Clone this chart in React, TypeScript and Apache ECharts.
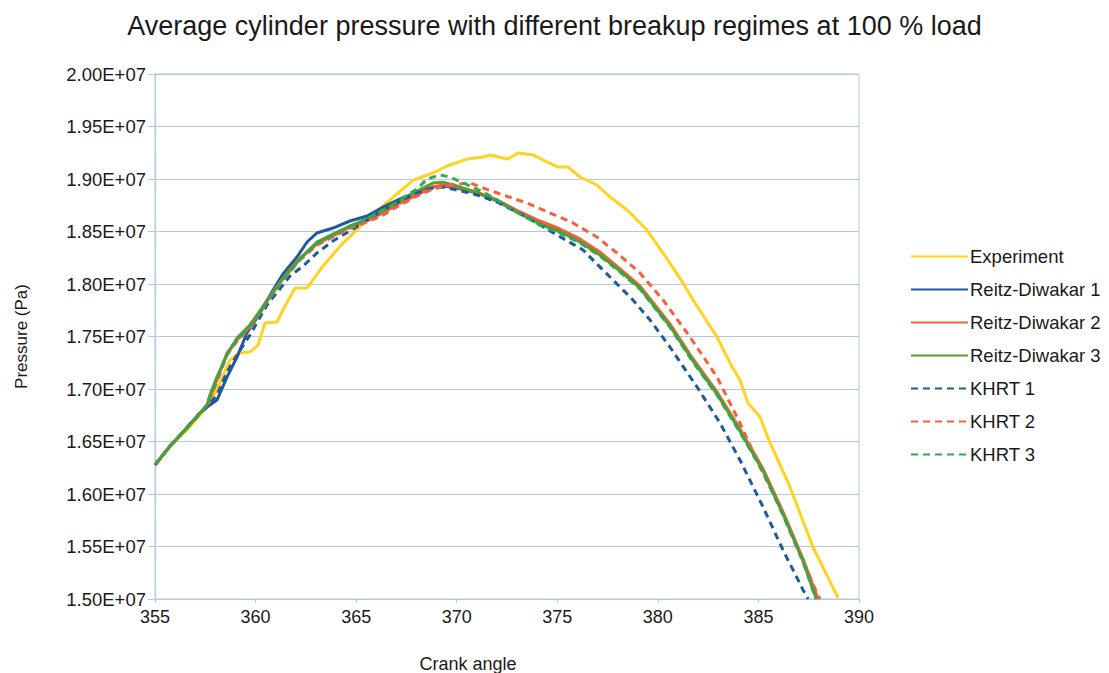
import React, { useEffect, useRef } from "react";
import * as echarts from "echarts";

// Pressure values are given in units of 1e7 Pa, crank angle in degrees
const SCALE = 1e7;

const title = "Average cylinder pressure with different breakup regimes at 100 % load";
const seriesNames = ["Experiment", "Reitz-Diwakar 1", "Reitz-Diwakar 2", "Reitz-Diwakar 3", "KHRT 1", "KHRT 2", "KHRT 3"];
const seriesColors = ["#ffd320", "#1f5a9c", "#f5603a", "#5a9e2a", "#1f5a9c", "#f5603a", "#2eaa50"];
const seriesDashed = [false, false, false, false, true, true, true];

const commonStart: number[][] = [
  [355.0, 1.6276], [355.75, 1.6457], [356.49, 1.661], [357.24, 1.6771],
];

const experiment: number[][] = [
  [355.0, 1.6276], [355.75, 1.6457], [356.59, 1.661], [357.24, 1.6752], [357.73, 1.6867],
  [358.23, 1.7057], [358.73, 1.7276], [359.23, 1.7343], [359.72, 1.7352], [360.12, 1.7419],
  [360.47, 1.7629], [361.07, 1.7638], [361.36, 1.7752], [361.96, 1.7962], [362.56, 1.7962],
  [363.35, 1.8171], [364.35, 1.839], [365.54, 1.861], [366.68, 1.88], [367.83, 1.899],
  [368.82, 1.9057], [369.52, 1.9124], [370.51, 1.919], [371.31, 1.921], [371.66, 1.9229],
  [372.3, 1.92], [372.55, 1.919], [373.05, 1.9248], [373.79, 1.9229], [374.49, 1.9162],
  [375.04, 1.9114], [375.53, 1.9114], [376.13, 1.9019], [376.97, 1.8943], [377.62, 1.8829],
  [378.47, 1.8705], [379.46, 1.8514], [380.26, 1.8295], [381.25, 1.801], [381.75, 1.7848],
  [382.94, 1.7495], [383.59, 1.7248], [384.08, 1.7086], [384.48, 1.6867], [385.08, 1.6733],
  [385.58, 1.6486], [386.57, 1.6067], [387.71, 1.5495], [388.96, 1.501],
];

const reitzDiwakar1: number[][] = [
  ...commonStart,
  [357.59, 1.6829], [358.08, 1.6895], [358.58, 1.7114], [359.08, 1.7305], [359.57, 1.7533],
  [360.22, 1.7724], [360.87, 1.7943], [361.36, 1.8095], [362.06, 1.8257], [362.56, 1.84],
  [363.05, 1.8486], [363.85, 1.8533], [364.69, 1.86], [365.54, 1.8648], [366.34, 1.8733],
  [367.18, 1.881], [368.03, 1.8876], [368.82, 1.8924], [369.32, 1.8933], [370.01, 1.8914],
  [371.01, 1.8867], [372.0, 1.88], [373.15, 1.8676], [374.14, 1.859], [375.14, 1.8514],
  [376.13, 1.8419], [377.12, 1.8295], [378.12, 1.8133], [379.11, 1.7971], [380.6, 1.761],
  [381.75, 1.7276], [382.94, 1.6962], [384.08, 1.661], [385.23, 1.6229], [386.22, 1.5819],
  [387.22, 1.5371], [387.91, 1.5019],
];

const reitzDiwakar2: number[][] = [
  ...commonStart,
  [357.59, 1.6848], [357.73, 1.6914], [358.08, 1.7086], [358.58, 1.7343], [359.08, 1.7467],
  [359.72, 1.759], [360.57, 1.7848], [361.36, 1.8057], [362.21, 1.8248], [363.05, 1.8381],
  [363.85, 1.8457], [364.69, 1.8543], [365.54, 1.86], [366.34, 1.8676], [367.18, 1.8771],
  [368.03, 1.8848], [368.82, 1.8924], [369.32, 1.8943], [370.01, 1.8924], [371.01, 1.8876],
  [372.0, 1.88], [373.15, 1.8686], [374.14, 1.86], [375.14, 1.8524], [376.13, 1.8429],
  [377.12, 1.8305], [378.12, 1.8143], [379.11, 1.7981], [380.6, 1.762], [381.75, 1.7286],
  [382.94, 1.6972], [384.08, 1.662], [385.23, 1.6239], [386.22, 1.5829], [387.22, 1.5381],
  [387.96, 1.5],
];

const reitzDiwakar3: number[][] = [
  ...commonStart,
  [357.59, 1.6848], [357.73, 1.6943], [358.08, 1.7114], [358.58, 1.7324], [359.08, 1.7486],
  [359.72, 1.761], [360.57, 1.7838], [361.36, 1.8048], [362.21, 1.8238], [363.05, 1.84],
  [363.85, 1.8476], [364.69, 1.8552], [365.54, 1.8619], [366.34, 1.8705], [367.18, 1.879],
  [368.03, 1.8886], [368.82, 1.8962], [369.32, 1.897], [370.01, 1.8933], [371.01, 1.8867],
  [372.0, 1.879], [373.15, 1.8667], [374.14, 1.8571], [375.14, 1.8495], [376.13, 1.84],
  [377.12, 1.8276], [378.12, 1.8124], [379.11, 1.7962], [380.6, 1.76], [381.75, 1.7267],
  [382.94, 1.6952], [384.08, 1.66], [385.23, 1.6219], [386.22, 1.581], [387.22, 1.5362],
  [387.88, 1.5],
];

const khrt1: number[][] = [
  ...commonStart,
  [357.59, 1.6829], [358.08, 1.6943], [358.58, 1.7162], [359.08, 1.7324], [359.72, 1.7514],
  [360.57, 1.78], [361.36, 1.799], [361.71, 1.8076], [362.36, 1.8171], [363.05, 1.8295],
  [363.85, 1.841], [364.69, 1.8505], [365.34, 1.8581], [366.34, 1.8705], [367.18, 1.879],
  [368.03, 1.8867], [368.82, 1.8914], [369.32, 1.8924], [370.01, 1.8895], [371.01, 1.8848],
  [372.0, 1.8781], [373.49, 1.8638], [374.64, 1.8505], [376.28, 1.8324], [377.62, 1.8067],
  [378.76, 1.7848], [379.61, 1.7657], [380.6, 1.74], [381.95, 1.7019], [383.09, 1.6676],
  [384.08, 1.6324], [385.23, 1.5876], [386.22, 1.5467], [387.22, 1.5086], [387.47, 1.5],
];

const khrt2: number[][] = [
  ...commonStart,
  [357.59, 1.6848], [357.73, 1.6905], [358.08, 1.7067], [358.58, 1.7324], [359.08, 1.7457],
  [359.72, 1.7581], [360.57, 1.7829], [361.36, 1.8038], [362.21, 1.8229], [363.05, 1.8371],
  [363.85, 1.8448], [364.69, 1.8533], [365.54, 1.859], [366.34, 1.8657], [367.18, 1.8752],
  [368.03, 1.8838], [368.82, 1.8905], [369.67, 1.8943], [370.66, 1.8962], [371.31, 1.8914],
  [372.3, 1.8848], [373.49, 1.8771], [374.64, 1.8676], [375.78, 1.8581], [376.97, 1.8448],
  [377.97, 1.8295], [379.11, 1.8105], [380.26, 1.7848], [381.6, 1.7495], [382.94, 1.7114],
  [384.08, 1.6676], [385.08, 1.6257], [386.07, 1.5876], [386.92, 1.5495], [387.91, 1.5057],
  [388.06, 1.5],
];

const khrt3: number[][] = [
  ...commonStart,
  [357.59, 1.6848], [357.73, 1.6924], [358.08, 1.7105], [358.58, 1.7333], [359.08, 1.7476],
  [359.72, 1.76], [360.57, 1.7838], [361.36, 1.8048], [362.21, 1.8238], [363.05, 1.839],
  [363.85, 1.8467], [364.69, 1.8552], [365.54, 1.8619], [366.34, 1.8705], [367.18, 1.88],
  [368.03, 1.8905], [368.52, 1.9], [369.17, 1.9038], [369.67, 1.9019], [370.01, 1.899],
  [370.66, 1.8933], [371.31, 1.8876], [372.0, 1.88], [373.15, 1.8667], [374.14, 1.8562],
  [375.14, 1.8486], [376.13, 1.839], [377.12, 1.8267], [378.12, 1.8114], [379.11, 1.7952],
  [380.6, 1.759], [381.75, 1.7257], [382.94, 1.6943], [384.08, 1.659], [385.23, 1.621],
  [386.22, 1.58], [387.22, 1.5352], [387.86, 1.5],
];

const allData = [experiment, reitzDiwakar1, reitzDiwakar2, reitzDiwakar3, khrt1, khrt2, khrt3];

const xMin = 355;
const xMax = 390;
const xStep = 5;
const yMin = 1.5e7;
const yMax = 2.0e7;
const yStep = 0.05e7;

const FONT = "'Liberation Sans', Arial, sans-serif";
const GRID_COLOR = "#b3c9dd";

export default function App() {
  const ref = useRef<HTMLDivElement>(null);
  useEffect(() => {
    document.body.style.margin = "0";
    const chart = echarts.init(ref.current!, null, { renderer: "svg" });
    chart.setOption({
      animation: false,
      backgroundColor: "#ffffff",
      textStyle: { fontFamily: FONT },
      title: {
        text: title,
        left: "center",
        top: 7,
        textStyle: { fontSize: 27, fontWeight: "normal", color: "#1a1a1a", fontFamily: FONT },
      },
      grid: {
        left: 155,
        right: 250,
        top: 74,
        bottom: 74,
        show: true,
        borderColor: GRID_COLOR,
        borderWidth: 1,
        containLabel: false,
      },
      legend: {
        orient: "vertical",
        left: 905,
        top: 242,
        itemWidth: 57,
        itemHeight: 14,
        itemGap: 14,
        itemStyle: { opacity: 0 },
        textStyle: { fontSize: 18.5, color: "#1a1a1a", fontFamily: FONT, padding: [0, 0, 0, -3] },
        data: seriesNames,
      },
      xAxis: {
        type: "value",
        min: xMin,
        max: xMax,
        interval: xStep,
        axisLine: { show: true, lineStyle: { color: GRID_COLOR, width: 1 } },
        axisTick: { show: true, length: 4, lineStyle: { color: GRID_COLOR } },
        axisLabel: { fontSize: 18, color: "#1a1a1a", margin: 9, fontFamily: FONT },
        splitLine: { show: false },
      },
      yAxis: {
        type: "value",
        min: yMin,
        max: yMax,
        interval: yStep,
        name: "Pressure (Pa)",
        nameLocation: "middle",
        nameGap: 125,
        nameTextStyle: { fontSize: 17, color: "#1a1a1a", fontFamily: FONT },
        axisLine: { show: true, lineStyle: { color: GRID_COLOR, width: 1 } },
        axisTick: { show: true, length: 7, lineStyle: { color: GRID_COLOR } },
        axisLabel: {
          fontSize: 18.5,
          color: "#1a1a1a",
          margin: 9,
          fontFamily: FONT,
          formatter: (v: number) => (v / SCALE).toFixed(2) + "E+07",
        },
        splitLine: { show: true, lineStyle: { color: GRID_COLOR, width: 1 } },
      },
      graphic: [
        {
          type: "text",
          x: 468,
          y: 664,
          style: {
            text: "Crank angle",
            font: `18px ${FONT}`,
            fill: "#1a1a1a",
            align: "center",
            verticalAlign: "middle",
          },
        },
      ],
      series: allData.map((d, i) => ({
        name: seriesNames[i],
        type: "line",
        data: d.map((p) => [p[0], p[1] * SCALE]),
        showSymbol: false,
        symbol: "none",
        smooth: false,
        clip: true,
        color: seriesColors[i],
        lineStyle: {
          color: seriesColors[i],
          width: 3,
          type: seriesDashed[i] ? [7, 5] : "solid",
        },
        itemStyle: { color: seriesColors[i] },
      })),
    });
    return () => chart.dispose();
  }, []);
  return <div ref={ref} style={{ width: 1109, height: 673 }} />;
}
